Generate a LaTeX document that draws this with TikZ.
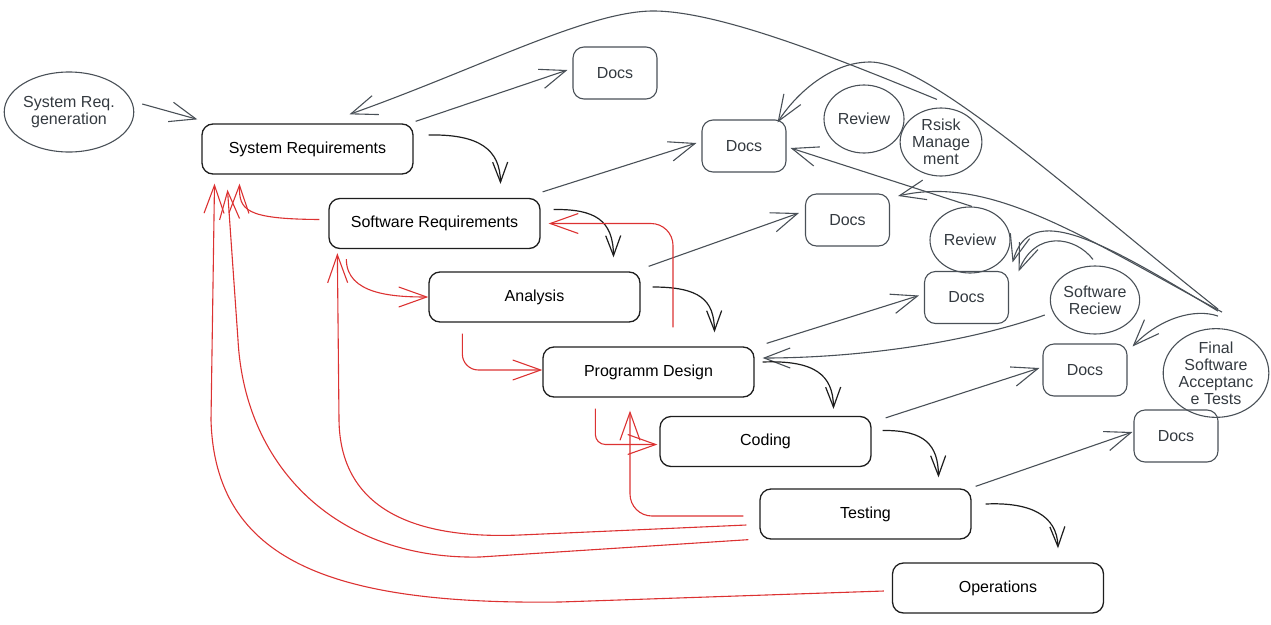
\documentclass[tikz,border=0pt]{standalone}
\usepackage{fontspec}
\setmainfont{Liberation Sans}
\usetikzlibrary{arrows.meta,calc,shapes.geometric}
\definecolor{ink}{HTML}{1E1E1E}
\definecolor{gline}{HTML}{495057}
\definecolor{gtext}{HTML}{343A40}
\definecolor{redl}{HTML}{DC3232}
\begin{document}
\begin{tikzpicture}[x=1pt,y=-1pt,
  proc/.style={draw=ink, line width=1.3pt, rounded corners=11pt, minimum width=211pt, minimum height=50pt, inner sep=0pt, text=black, font=\fontsize{16}{19}\selectfont},
  docbox/.style={draw=gline, line width=1.1pt, rounded corners=11pt, minimum width=84pt, minimum height=52pt, inner sep=0pt, text=gtext, font=\fontsize{16}{19}\selectfont},
  ell/.style={draw=gline, line width=1.1pt, ellipse, inner sep=0pt, align=center, text=gtext, font=\fontsize{16}{17}\selectfont},
  garrow/.style={draw=gline, line width=1.1pt, -{Straight Barb[length=26pt,width=20pt]}},
  barrow/.style={draw=ink, line width=1.2pt, -{Straight Barb[length=20pt,width=15pt]}},
  rarrow/.style={draw=redl, line width=1.1pt, -{Straight Barb[length=28pt,width=20pt]}}
]
\path[use as bounding box] (0,0) rectangle (1271,624);

% process boxes
\node[proc] (sysreq) at (307.5,149) {System Requirements};
\node[proc] (swreq) at (434.5,223.5) {Software Requirements};
\node[proc] (analysis) at (534.5,297) {Analysis};
\node[proc] (prog) at (648.5,372) {Programm Design};
\node[proc] (coding) at (765.5,441.5) {Coding};
\node[proc] (testing) at (865.5,514) {Testing};
\node[proc] (ops) at (998,588) {Operations};

% docs
\node[docbox] (docs1) at (615,73) {Docs};
\node[docbox] (docs2) at (744,146) {Docs};
\node[docbox] (docs3) at (847.5,220) {Docs};
\node[docbox] (docs4) at (966.5,297.5) {Docs};
\node[docbox] (docs5) at (1085,370) {Docs};
\node[docbox] (docs6) at (1176,436) {Docs};

% ellipses
\node[ell, minimum width=120pt, minimum height=80pt] (srg) at (69,112) {System Req.\\generation};
\node[ell, minimum width=80pt, minimum height=68pt] (rev1) at (864,119) {Review};
\node[ell, minimum width=80pt, minimum height=68pt] (rsisk) at (941,142) {Rsisk\\Manage\\ment};
\node[ell, minimum width=80pt, minimum height=66pt] (rev2) at (970,240) {Review};
\node[ell, minimum width=84pt, minimum height=68pt] (swrev) at (1095,300) {Software\\Reciew};
\node[ell, minimum width=94pt, minimum height=88pt] (fsat) at (1216,373) {Final\\Software\\Acceptanc\\e Tests};

% gray connectors
\draw[garrow] ($(srg.east)+(8,-8)$) -- ($(sysreq.north west)+(-4,-4)$);
\draw[garrow] ($(sysreq.north east)+(2,-2)$) -- ($(docs1.west)+(-5,-3)$);
\draw[garrow] ($(swreq.north east)+(2,-6)$) -- ($(docs2.west)+(-5,-3)$);
\draw[garrow] ($(analysis.north east)+(8,-5)$) -- ($(docs3.west)+(-6,-7)$);
\draw[garrow] ($(prog.north east)+(12,-3)$) -- ($(docs4.west)+(-5,-2)$);
\draw[garrow] ($(coding.north east)+(14,2)$) -- ($(docs5.west)+(-3,-2)$);
\draw[garrow] ($(testing.north east)+(4,-2)$) -- ($(docs6.west)+(-1,-4)$);

\draw[garrow] ($(rsisk.north)+(-4,-8)$) .. controls (850,64) and (725,12) .. (655,11)
  .. controls (590,10) and (480,68) .. ($(sysreq.north)+(42,-9)$);
\draw[garrow] ($(fsat.north)+(2,-19)$) .. controls (1080,200) and (930,62) .. (870,62)
  .. controls (830,62) and (795,95) .. ($(docs2.north east)+(-9,3)$);
\draw[garrow] ($(fsat.north)+(6,-16)$) .. controls (1080,235) and (990,175) .. ($(docs3.east)+(8,-24)$);
\draw[garrow] ($(rev2.north)+(2,0)$) -- ($(docs2.east)+(4,2)$);
\draw[garrow] ($(fsat.north)+(2,-17)$) .. controls (1100,240) and (1030,200) .. ($(docs4.north east)+(3.5,-8.5)$);
\draw[garrow] ($(swrev.north)+(-2,-6)$) .. controls (1075,236) and (1035,230) .. ($(docs4.north east)+(9.5,0.5)$);
\draw[garrow] ($(swrev.west)+(-5,15)$) .. controls (960,345) and (850,358) .. ($(prog.east)+(8,-14)$);
\draw[garrow] ($(fsat.north)+(2,-12)$) .. controls (1195,308) and (1160,318) .. ($(docs5.north east)+(5,3)$);

% black flow connectors
\draw[barrow] ($(sysreq.east)+(15,-14)$) .. controls (480,134) and (500,150) .. ($(swreq.north)+(66,-14)$);
\draw[barrow] ($(swreq.east)+(13,-14)$) .. controls (595,209) and (613,220) .. ($(analysis.north)+(79,-14)$);
\draw[barrow] ($(analysis.east)+(12,-10)$) .. controls (700,287) and (714,300) .. ($(prog.north)+(66,-14)$);
\draw[barrow] ($(prog.east)+(8,-10)$) .. controls (815,360) and (833,375) .. ($(coding.north)+(68,-7)$);
\draw[barrow] ($(coding.east)+(11,-11)$) .. controls (925,430) and (938,445) .. ($(testing.north)+(73,-11)$);
\draw[barrow] ($(testing.east)+(14,-10)$) .. controls (1030,502) and (1057,515) .. ($(ops.north)+(60,-14)$);

% red feedback connectors
\draw[rarrow] ($(swreq.west)+(-9,-4)$) .. controls (245,219) and (239,210) .. ($(sysreq.south)+(-68,9)$);
\draw[rarrow] ($(swreq.south west)+(18,10)$) to[out=-90,in=180] (analysis.west);
\draw[rarrow, rounded corners=22pt] ($(prog.north)+(24.5,-19)$) |- ($(swreq.east)+(8,0)$);
\draw[rarrow, rounded corners=16pt] ($(analysis.south west)+(34,11)$) |- ($(prog.west)+(0,-2)$);
\draw[rarrow, rounded corners=10pt] ($(prog.south west)+(53,11)$) |- ($(coding.west)+(-2,3)$);
\draw[rarrow, rounded corners=22pt] ($(testing.west)+(-16,2)$) -| ($(prog.south)+(-18.5,13)$);
\draw[rarrow] ($(testing.west)+(-13,11)$) -- (520,535) .. controls (400,540) and (340,500) .. (339,420) -- ($(swreq.south west)+(9,4)$);
\draw[rarrow] ($(testing.south west)+(-11,0)$) -- (480,557) .. controls (340,560) and (245,470) .. (238,340) -- ($(sysreq.south)+(-80,15)$);
\draw[rarrow] ($(ops.west)+(-8,3)$) -- (560,602) .. controls (330,605) and (215,560) .. (211,420) -- ($(sysreq.south)+(-93,9)$);
\end{tikzpicture}
\end{document}
